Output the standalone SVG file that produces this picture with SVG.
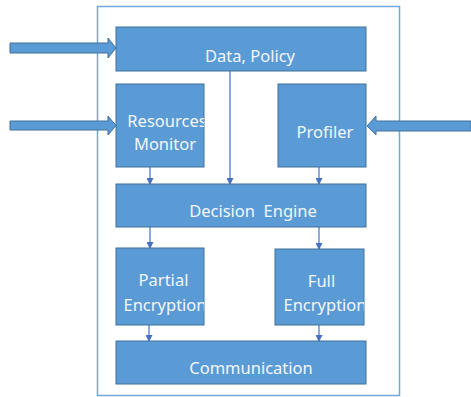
<svg xmlns="http://www.w3.org/2000/svg" width="471" height="397" viewBox="0 0 471 397">
<style>
.box{fill:#5B9BD5;stroke:#41719C;stroke-width:1}
.lbl{fill:#F2F6FB;font-family:"Noto Sans","DejaVu Sans",sans-serif;font-size:16.5px;text-anchor:middle}
.big{fill:#5B9BD5;stroke:#41719C;stroke-width:1}
.con{stroke:#4472C4;stroke-width:1.2;fill:none;marker-end:url(#ah)}
</style>
<defs>
<marker id="ah" markerWidth="7" markerHeight="7" refX="6" refY="3.5" orient="auto" markerUnits="userSpaceOnUse">
<path d="M0,0 L7,3.5 L0,7 Z" fill="#4472C4"/>
</marker>
<clipPath id="cRM"><rect x="116" y="84" width="88" height="83"/></clipPath>
<clipPath id="cPE"><rect x="116" y="248" width="88" height="77"/></clipPath>
<clipPath id="cFE"><rect x="275" y="249" width="89" height="76"/></clipPath>
</defs>
<rect x="97.5" y="6.5" width="302" height="389" fill="#fff" stroke="#6FA8DC" stroke-width="1.5"/>
<g id="inputs">
<polygon class="big" points="10,43 108,43 108,38 116,48 108,58 108,53 10,53"/>
<polygon class="big" points="10,121 108,121 108,116 116,125.5 108,135 108,130 10,130"/>
<polygon class="big" points="471,121 376,121 376,116 367,126 376,135 376,131 471,131"/>
</g>
<g id="connectors">
<line class="con" x1="230" y1="71" x2="230" y2="184"/>
<line class="con" x1="150" y1="167" x2="150" y2="184"/>
<line class="con" x1="319" y1="167" x2="319" y2="184"/>
<line class="con" x1="150" y1="227" x2="150" y2="248"/>
<line class="con" x1="319" y1="227" x2="319" y2="249"/>
<line class="con" x1="149" y1="325" x2="149" y2="341"/>
<line class="con" x1="319" y1="325" x2="319" y2="341"/>
</g>
<g id="data-policy">
<rect class="box" x="116" y="27" width="250" height="44"/>
<text class="lbl" x="250" y="62">Data, Policy</text>
</g>
<g id="resources-monitor">
<rect class="box" x="116" y="84" width="88" height="83"/>
<g clip-path="url(#cRM)">
<text class="lbl" x="167" y="127">Resources</text>
<text class="lbl" x="165" y="150">Monitor</text>
</g>
</g>
<g id="profiler">
<rect class="box" x="278" y="84" width="88" height="83"/>
<text class="lbl" x="325" y="138">Profiler</text>
</g>
<g id="decision-engine">
<rect class="box" x="116" y="184" width="250" height="43"/>
<text class="lbl" x="253" y="217" xml:space="preserve">Decision  Engine</text>
</g>
<g id="partial-encryption">
<rect class="box" x="116" y="248" width="88" height="77"/>
<g clip-path="url(#cPE)">
<text class="lbl" x="163.5" y="286">Partial</text>
<text class="lbl" x="165" y="311">Encryption</text>
</g>
</g>
<g id="full-encryption">
<rect class="box" x="275" y="249" width="89" height="76"/>
<g clip-path="url(#cFE)">
<text class="lbl" x="321.5" y="287">Full</text>
<text class="lbl" x="325" y="311">Encryption</text>
</g>
</g>
<g id="communication">
<rect class="box" x="116" y="341" width="250" height="43"/>
<text class="lbl" x="251" y="374">Communication</text>
</g>
</svg>
